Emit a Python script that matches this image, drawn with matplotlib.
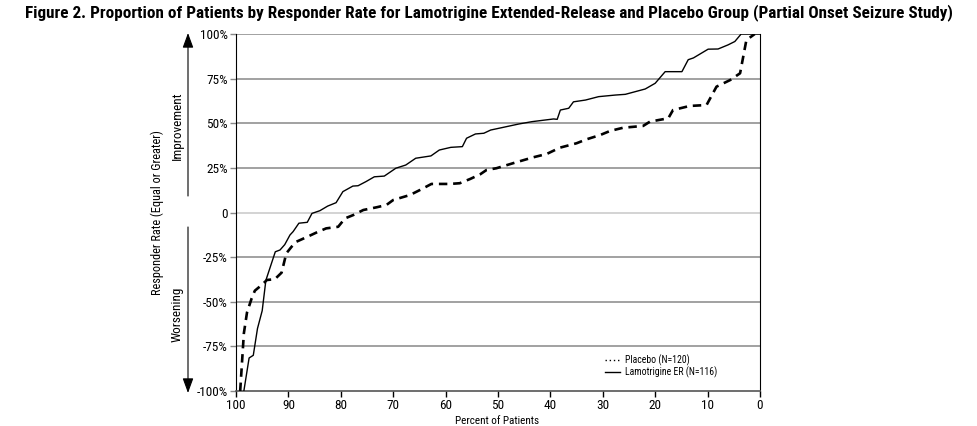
import matplotlib
matplotlib.use("Agg")
import matplotlib.pyplot as plt
from matplotlib.lines import Line2D
from matplotlib.patches import FancyArrowPatch
from matplotlib import font_manager

available = set(f.name for f in font_manager.fontManager.ttflist)
prefs = ['Liberation Sans Narrow', 'Arial Narrow', 'Roboto Condensed', 'Archivo Narrow',
         'PT Sans Narrow', 'Open Sans Condensed', 'Pragati Narrow', 'Encode Sans Condensed',
         'IBM Plex Sans Condensed', 'Asap Condensed', 'Liberation Sans']
FONT = next((p for p in prefs if p in available), 'DejaVu Sans')
plt.rcParams['font.family'] = [FONT, 'DejaVu Sans']

# Lamotrigine ER (solid)
lam_pct = [98.5, 97.5, 96.7, 95.9, 95.0, 94.3, 93.4, 92.5, 91.6, 90.7, 89.7, 89.1, 88.0, 86.4, 85.5,
           84.0, 82.5, 80.9, 79.6, 77.7, 76.7, 75.2, 73.6, 71.7, 69.5, 67.6, 65.7, 62.8, 61.2, 59.0,
           56.8, 56.0, 54.3, 52.7, 51.4, 49.8, 46.0, 43.5, 39.4, 38.7, 38.1, 36.5, 35.6, 33.3, 30.8,
           27.6, 25.7, 23.8, 21.9, 20.0, 18.1, 14.9, 13.7, 12.7, 9.9, 8.0, 6.1, 4.8, 3.6, 0.0]
lam_rate = [-100, -81.5, -80, -65, -55, -38, -30, -22, -21, -18, -12.6, -10.7, -6, -5.5, -0.5,
            1, 3.6, 5.5, 11.7, 14.8, 15, 17.3, 20, 20.4, 24.8, 26.6, 30.4, 31.7, 35, 36.5,
            36.9, 41.6, 44, 44.4, 46.2, 47.2, 49.6, 50.9, 52.4, 52.2, 57.4, 58.4, 62, 63, 64.9,
            65.8, 66.2, 67.7, 69.2, 72.4, 78.9, 78.9, 85.6, 86.6, 91.5, 91.6, 93.9, 95.8, 100, 100]

# Placebo (dashed)
pla_pct = [99.2, 98.5, 97.9, 97.0, 96.4, 95.1, 94.1, 92.6, 91.3, 90.4, 89.4, 88.5, 86.6, 84.7, 82.8,
           80.5, 79.2, 77.6, 75.7, 73.2, 71.3, 70.0, 66.8, 64.9, 62.7, 59.2, 57.3, 55.3, 53.4, 52.2,
           50.3, 46.8, 43.3, 40.7, 38.2, 35.0, 33.1, 30.5, 28.6, 26.1, 22.3, 21.0, 17.5, 16.6, 13.4,
           10.2, 8.3, 5.7, 3.8, 2.6, 1.0]
pla_rate = [-100, -67.7, -56, -48, -43.8, -40.6, -37.8, -37.4, -33.7, -22.9, -19.2, -16.4, -13.9, -11.3, -8.9,
            -8, -3.3, -1.4, 1.4, 2.9, 4.2, 7, 9.8, 12.6, 16, 16, 16.4, 18.8, 21.4, 23.8,
            24.8, 27.9, 30.9, 32.8, 36.3, 38.8, 41, 43.4, 45.7, 47.5, 48.5, 50.9, 52.8, 57.4, 59.7,
            60.2, 70.5, 74.2, 78, 96.6, 100]

x_ticks = [100, 90, 80, 70, 60, 50, 40, 30, 20, 10, 0]
y_ticks = [-100, -75, -50, -25, 0, 25, 50, 75, 100]
y_labels = ['-100%', '-75%', '-50%', '-25%', '0', '25%', '50%', '75%', '100%']

title = "Figure 2. Proportion of Patients by Responder Rate for Lamotrigine Extended-Release and Placebo Group (Partial Onset Seizure Study)"

W, H = 978, 426
fig = plt.figure(figsize=(W / 100, H / 100), dpi=100)
L, R, T, B = 236, 760, 34, 391
ax = fig.add_axes([L / W, 1 - B / H, (R - L) / W, (B - T) / H])

for yv in y_ticks:
    if yv == -100:
        continue
    col = '#c8c8c8' if yv == 0 else '#888888'
    ax.axhline(yv, color=col, lw=1.1, zorder=1)

ax.plot(pla_pct, pla_rate, color='black', lw=1.9, ls=(0, (3.2, 2.2)), zorder=3)
ax.plot(lam_pct, lam_rate, color='black', lw=1.0, zorder=3)

ax.set_xlim(100, 0)
ax.set_ylim(-100, 100)
ax.set_xticks(x_ticks)
ax.set_xticklabels([str(v) for v in x_ticks], fontsize=9.5)
ax.set_yticks(y_ticks)
ax.set_yticklabels(y_labels, fontsize=9.5)
ax.tick_params(axis='x', direction='out', length=4, width=1, pad=2)
ax.tick_params(axis='y', direction='out', length=4, width=1, pad=2, color='#888888')
ax.spines['top'].set_visible(False)
ax.spines['left'].set_color('black')
ax.spines['right'].set_color('black')
ax.spines['bottom'].set_color('#555555')
ax.spines['bottom'].set_linewidth(1.2)

handles = [Line2D([], [], color='black', lw=1.0, ls=(0, (1, 2))),
           Line2D([], [], color='black', lw=1.0)]
ax.legend(handles, ['Placebo (N=120)', 'Lamotrigine ER (N=116)'], loc='lower left',
          bbox_to_anchor=((600 - L) / (R - L), (B - 383) / (B - T)), frameon=False,
          fontsize=7, handlelength=1.6, handletextpad=0.5, labelspacing=0.1, borderpad=0)

t = fig.text(489 / W, 1 - 13 / H, title, ha='center', va='center', fontsize=12, fontweight='bold')
fig.canvas.draw()
r = fig.canvas.get_renderer()
for _ in range(2):
    w = t.get_window_extent(r).width
    t.set_fontsize(t.get_fontsize() * 927.0 / w)

fig.text(157 / W, 1 - 213 / H, 'Responder Rate (Equal or Greater)', rotation=90,
         ha='center', va='center', fontsize=8.8)
fig.text(177 / W, 1 - 126 / H, 'Improvement', rotation=90, ha='center', va='center', fontsize=9.5)
fig.text(177 / W, 1 - 314 / H, 'Worsening', rotation=90, ha='center', va='center', fontsize=9.5)
fig.text(497 / W, 0.5 / H, 'Percent of Patients', ha='center', va='bottom', fontsize=8)

ax_x = 188 / W
for y0, y1 in [(196, 33), (227, 393)]:
    fig.add_artist(FancyArrowPatch((ax_x, 1 - y0 / H), (ax_x, 1 - y1 / H),
                   transform=fig.transFigure, arrowstyle='-|>,head_length=3,head_width=1.1',
                   color='black', lw=0.8, mutation_scale=3, shrinkA=0, shrinkB=0))

fig.savefig('out.png', dpi=100)
